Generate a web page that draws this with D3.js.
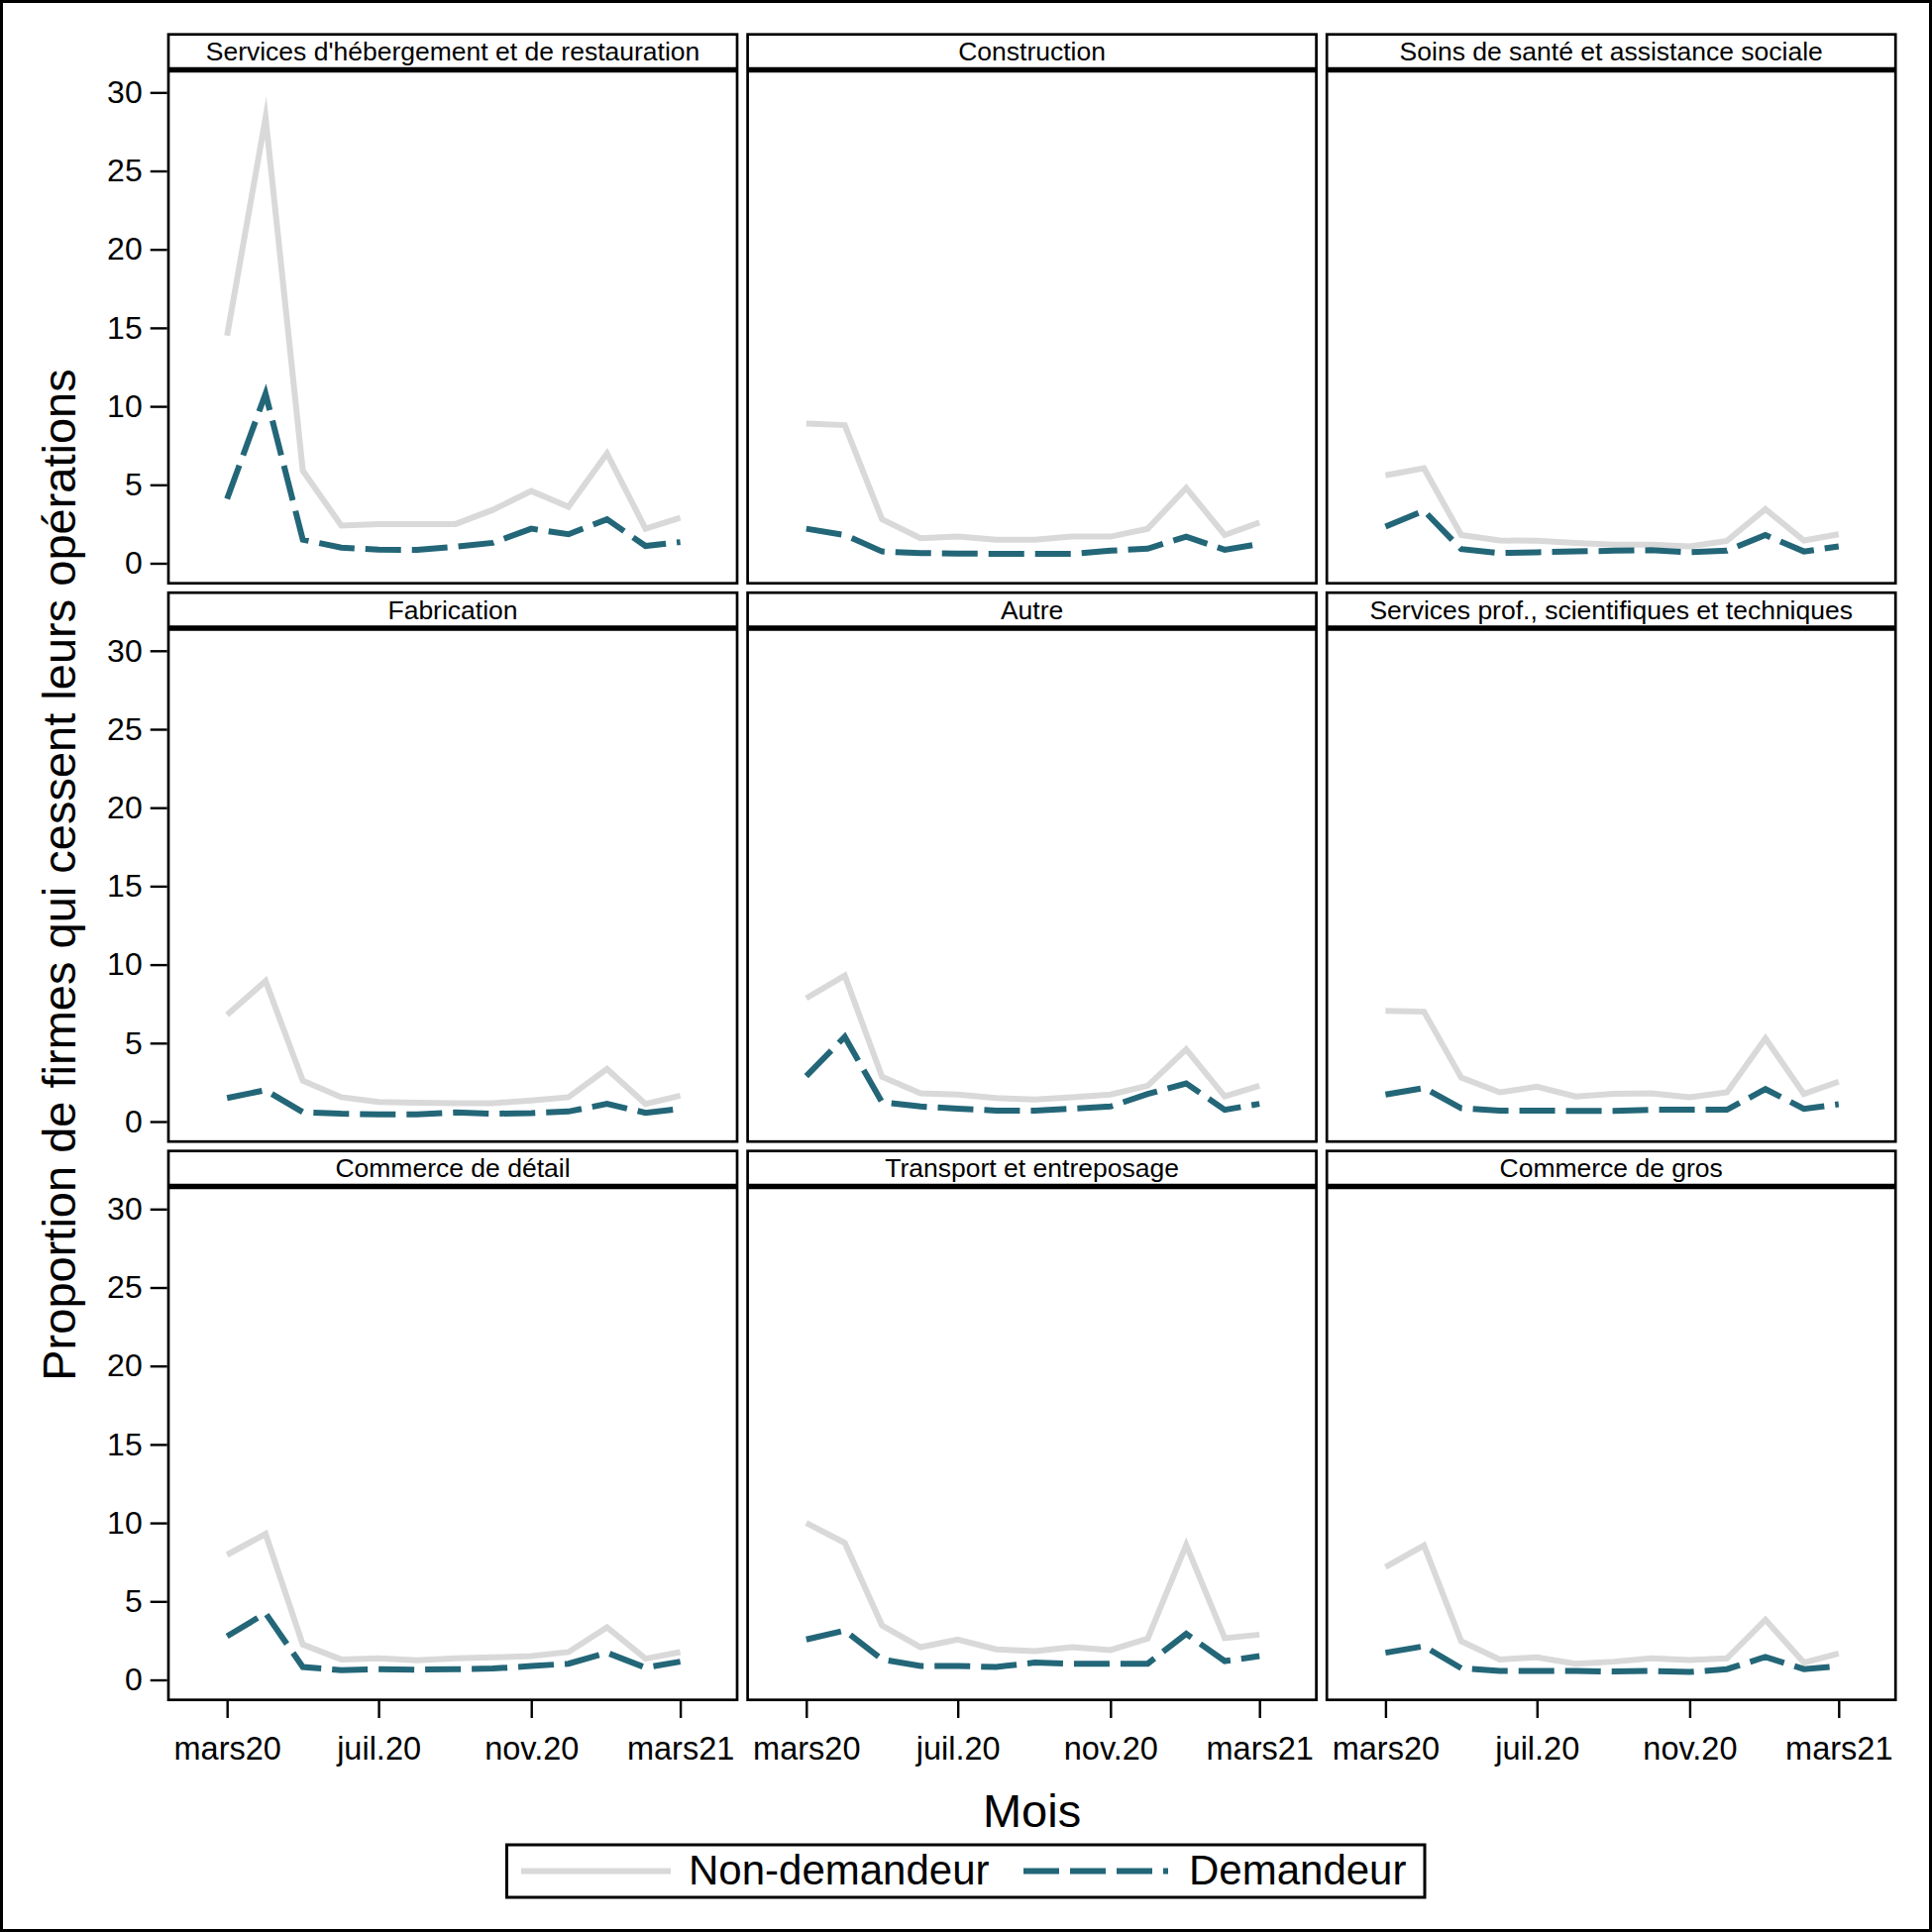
<!DOCTYPE html>
<html>
<head>
<meta charset="utf-8">
<script src="https://cdn.jsdelivr.net/npm/d3@7"></script>
<style>
  html, body { margin: 0; padding: 0; background: #fff; }
  svg { display: block; }
  text { font-family: "Liberation Sans", Arial, sans-serif; fill: #000; }
</style>
</head>
<body>
<svg id="chart" width="1950" height="1950"></svg>
<script>
// ---------- DATA ----------
const monthDates = ["2020-03-01","2020-04-01","2020-05-01","2020-06-01","2020-07-01","2020-08-01",
  "2020-09-01","2020-10-01","2020-11-01","2020-12-01","2021-01-01","2021-02-01","2021-03-01"];
const tickDates = ["2020-03-01","2020-07-01","2020-11-01","2021-03-01"];
const tickLabels = ["mars20","juil.20","nov.20","mars21"];
const yTicks = [0, 5, 10, 15, 20, 25, 30];

const panelTitles = [
  "Services d'hébergement et de restauration", "Construction", "Soins de santé et assistance sociale",
  "Fabrication", "Autre", "Services prof., scientifiques et techniques",
  "Commerce de détail", "Transport et entreposage", "Commerce de gros"
];

const seriesNames = ["Non-demandeur", "Demandeur"];

const nonDemandeur = [
  [14.5, 28.4, 5.9, 2.4, 2.5, 2.5, 2.5, 3.4, 4.6, 3.6, 7.0, 2.2, 2.9],
  [8.9, 8.8, 2.8, 1.6, 1.7, 1.5, 1.5, 1.7, 1.7, 2.2, 4.8, 1.8, 2.6],
  [5.6, 6.05, 1.8, 1.45, 1.43, 1.3, 1.18, 1.18, 1.07, 1.43, 3.45, 1.45, 1.85],
  [6.8, 8.95, 2.6, 1.55, 1.25, 1.2, 1.17, 1.17, 1.34, 1.55, 3.35, 1.13, 1.65],
  [7.86, 9.3, 2.85, 1.8, 1.72, 1.5, 1.4, 1.55, 1.72, 2.28, 4.6, 1.6, 2.28],
  [7.06, 7.0, 2.8, 1.86, 2.22, 1.6, 1.76, 1.8, 1.55, 1.86, 5.3, 1.76, 2.54],
  [7.97, 9.3, 2.25, 1.3, 1.37, 1.24, 1.37, 1.43, 1.51, 1.77, 3.35, 1.35, 1.77],
  [10.0, 8.73, 3.47, 2.08, 2.57, 1.94, 1.83, 2.08, 1.9, 2.63, 8.6, 2.66, 2.88],
  [7.19, 8.56, 2.46, 1.3, 1.43, 1.03, 1.16, 1.37, 1.26, 1.37, 3.83, 1.1, 1.68]
];

const demandeur = [
  [4.1, 10.8, 1.5, 1.0, 0.87, 0.85, 1.05, 1.3, 2.2, 1.85, 2.8, 1.1, 1.35],
  [2.2, 1.8, 0.75, 0.65, 0.62, 0.6, 0.6, 0.6, 0.8, 0.93, 1.7, 0.86, 1.22],
  [2.33, 3.35, 0.9, 0.65, 0.7, 0.75, 0.8, 0.83, 0.7, 0.8, 1.8, 0.75, 1.07],
  [1.5, 2.0, 0.6, 0.5, 0.46, 0.46, 0.58, 0.5, 0.54, 0.64, 1.13, 0.56, 0.81],
  [2.9, 5.4, 1.23, 0.96, 0.82, 0.7, 0.7, 0.82, 0.96, 1.76, 2.43, 0.75, 1.13],
  [1.72, 2.14, 0.85, 0.7, 0.7, 0.68, 0.68, 0.75, 0.75, 0.75, 2.07, 0.81, 1.1],
  [2.78, 4.25, 0.82, 0.61, 0.68, 0.65, 0.68, 0.72, 0.88, 1.03, 1.73, 0.78, 1.16],
  [2.57, 3.14, 1.3, 0.88, 0.88, 0.82, 1.1, 1.03, 1.03, 1.03, 2.93, 1.2, 1.51],
  [1.73, 2.14, 0.74, 0.57, 0.57, 0.57, 0.53, 0.57, 0.5, 0.68, 1.46, 0.68, 0.88]
];

// ---------- LAYOUT ----------
const W = 1950, H = 1950;
const colLeft0 = 170, colStep = 584.6, panelW = 574;
const rowTop0 = 34.7, rowStep = 563.5, panelH = 554;
const stripH = 35.8;
const nonColor = "#d9d9d9", demColor = "#236678";
const lineW = 6, dash = "36,11";
const font = "'Liberation Sans', Arial, sans-serif";

const parse = d3.timeParse("%Y-%m-%d");
const dates = monthDates.map(parse);
const tDates = tickDates.map(parse);

const svg = d3.select("#chart");
svg.append("rect").attr("x", 1.5).attr("y", 1.5).attr("width", W - 3).attr("height", H - 3)
  .attr("fill", "#fff").attr("stroke", "#000").attr("stroke-width", 3);

panelTitles.forEach((title, i) => {
  const col = i % 3, row = Math.floor(i / 3);
  const x0 = colLeft0 + col * colStep;
  const y0 = rowTop0 + row * rowStep;

  const x = d3.scaleTime().domain([dates[0], dates[dates.length - 1]])
    .range([x0 + 59.2, x0 + 516.6]);
  const y = d3.scaleLinear().domain([0, 30]).range([y0 + 533.8, y0 + 58.6]);

  const g = svg.append("g");

  // panel frame
  g.append("rect").attr("x", x0).attr("y", y0).attr("width", panelW).attr("height", panelH)
    .attr("fill", "#fff").attr("stroke", "#000").attr("stroke-width", 2.7);
  // strip
  g.append("line").attr("x1", x0).attr("x2", x0 + panelW)
    .attr("y1", y0 + stripH).attr("y2", y0 + stripH)
    .attr("stroke", "#000").attr("stroke-width", 5.6);
  g.append("text").attr("x", x0 + panelW / 2).attr("y", y0 + 26.3)
    .attr("text-anchor", "middle").style("font-size", "26.5px").text(title);

  // lines
  const line = d3.line().x((d, k) => x(dates[k])).y(d => y(d));
  g.append("path").datum(nonDemandeur[i]).attr("d", line)
    .attr("fill", "none").attr("stroke", nonColor).attr("stroke-width", lineW)
    .attr("stroke-linejoin", "miter").attr("stroke-miterlimit", 10);
  g.append("path").datum(demandeur[i]).attr("d", line)
    .attr("fill", "none").attr("stroke", demColor).attr("stroke-width", lineW)
    .attr("stroke-dasharray", dash).attr("stroke-linejoin", "miter");

  // y axis on left column
  if (col === 0) {
    const ax = g.append("g").attr("transform", `translate(${x0 - 1.3},0)`)
      .call(d3.axisLeft(y).tickValues(yTicks).tickSize(17).tickPadding(8).tickFormat(d3.format("d")));
    ax.select(".domain").remove();
    ax.selectAll(".tick line").attr("stroke", "#000").attr("stroke-width", 2.4);
    ax.selectAll(".tick text").style("font-size", "32px").style("font-family", font).attr("fill", "#000");
  }
  // x axis on bottom row
  if (row === 2) {
    const ax = g.append("g").attr("transform", `translate(0,${y0 + panelH + 1.3})`)
      .call(d3.axisBottom(x).tickValues(tDates).tickSize(17).tickPadding(19)
        .tickFormat((d, k) => tickLabels[k]));
    ax.select(".domain").remove();
    ax.selectAll(".tick line").attr("stroke", "#000").attr("stroke-width", 2.4);
    ax.selectAll(".tick text").style("font-size", "32.5px").style("font-family", font).attr("fill", "#000");
  }
});

// axis titles
svg.append("text").attr("transform", "translate(76,883) rotate(-90)")
  .attr("text-anchor", "middle").style("font-size", "47px")
  .text("Proportion de firmes qui cessent leurs opérations");
svg.append("text").attr("x", colLeft0 + colStep + panelW / 2).attr("y", 1844)
  .attr("text-anchor", "middle").style("font-size", "47px").text("Mois");

// legend
const lg = svg.append("g");
lg.append("rect").attr("x", 511.5).attr("y", 1862).attr("width", 926.5).attr("height", 53)
  .attr("fill", "#fff").attr("stroke", "#000").attr("stroke-width", 3);
const legendItems = [
  { name: seriesNames[0], color: nonColor, dash: null, x1: 526, x2: 677, tx: 695 },
  { name: seriesNames[1], color: demColor, dash: dash, x1: 1033, x2: 1179, tx: 1200 }
];
legendItems.forEach(it => {
  const l = lg.append("line").attr("x1", it.x1).attr("x2", it.x2).attr("y1", 1888.5).attr("y2", 1888.5)
    .attr("stroke", it.color).attr("stroke-width", lineW);
  if (it.dash) l.attr("stroke-dasharray", it.dash);
  lg.append("text").attr("x", it.tx).attr("y", 1902).style("font-size", "42px").text(it.name);
});
</script>
</body>
</html>
